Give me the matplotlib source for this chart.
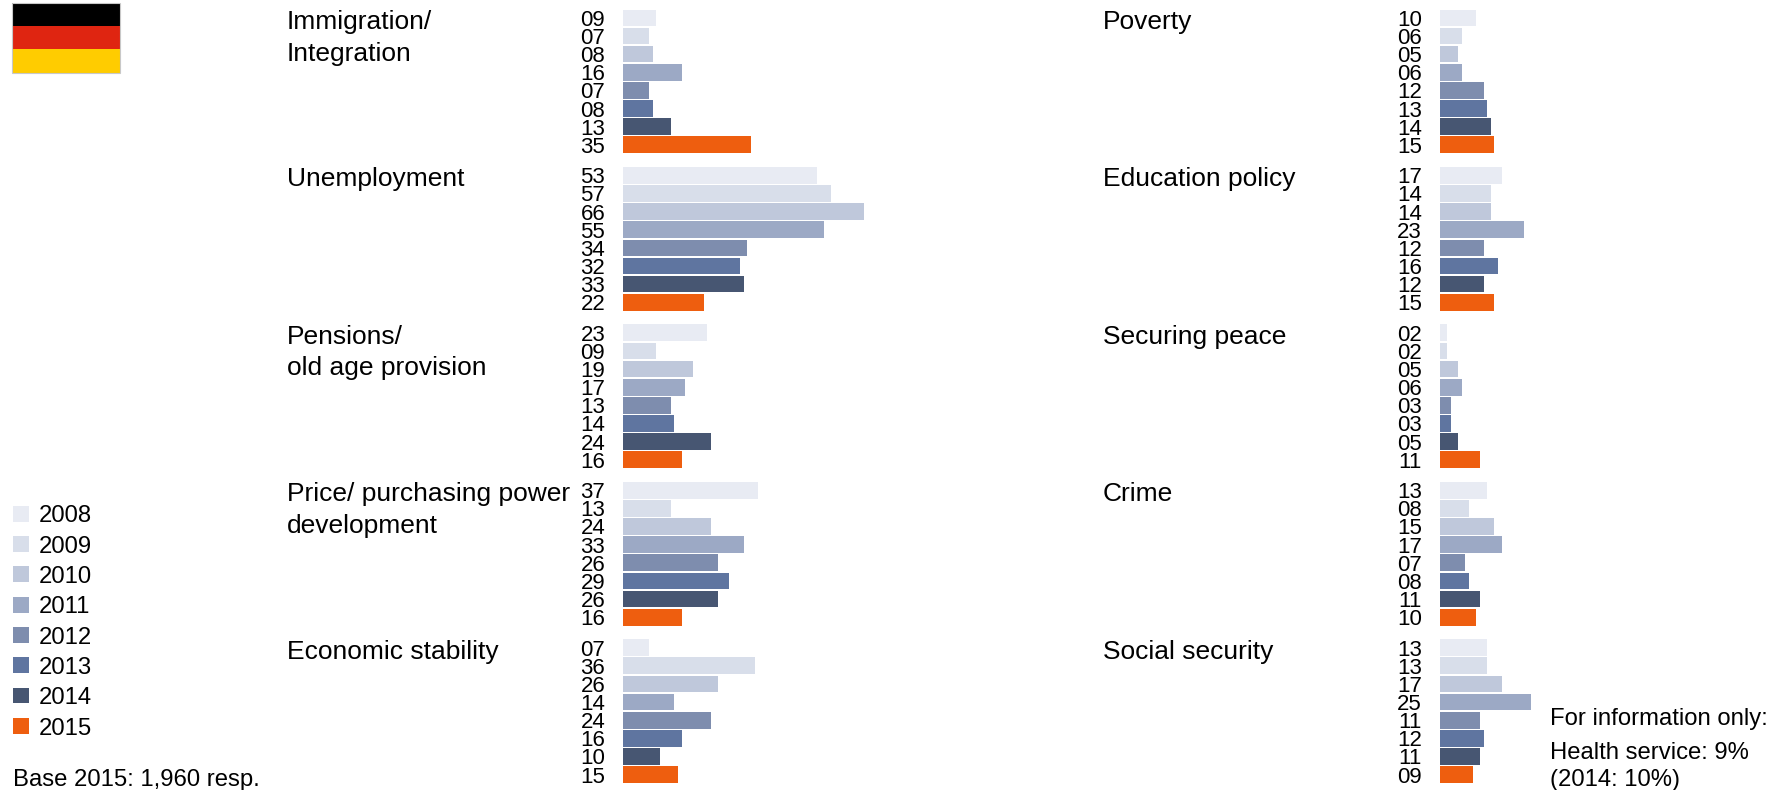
import matplotlib
matplotlib.use('Agg')
import matplotlib.pyplot as plt
from matplotlib.patches import Rectangle

plt.rcParams['font.family'] = ['Liberation Sans', 'DejaVu Sans']

years = ['2008', '2009', '2010', '2011', '2012', '2013', '2014', '2015']
colors = ['#E8EBF3', '#D8DEEA', '#BFC8DB', '#9CA9C5', '#7E8DAE', '#5F75A0', '#475672', '#EE5E0F']

left_titles = ['Immigration/\nIntegration', 'Unemployment', 'Pensions/\nold age provision',
               'Price/ purchasing power\ndevelopment', 'Economic stability']
right_titles = ['Poverty', 'Education policy', 'Securing peace', 'Crime', 'Social security']

immigration = [9, 7, 8, 16, 7, 8, 13, 35]
unemployment = [53, 57, 66, 55, 34, 32, 33, 22]
pensions = [23, 9, 19, 17, 13, 14, 24, 16]
prices = [37, 13, 24, 33, 26, 29, 26, 16]
economy = [7, 36, 26, 14, 24, 16, 10, 15]
poverty = [10, 6, 5, 6, 12, 13, 14, 15]
education = [17, 14, 14, 23, 12, 16, 12, 15]
peace = [2, 2, 5, 6, 3, 3, 5, 11]
crime = [13, 8, 15, 17, 7, 8, 11, 10]
social = [13, 13, 17, 25, 11, 12, 11, 9]

left_values = [immigration, unemployment, pensions, prices, economy]
right_values = [poverty, education, peace, crime, social]

W, H = 1778, 790
fig = plt.figure(figsize=(W / 100, H / 100), dpi=100)

# full size axes in pixels for flag, legend and free text
page = fig.add_axes([0, 0, 1, 1])
page.set_xlim(0, W)
page.set_ylim(H, 0)
page.axis('off')

page.add_patch(Rectangle((12, 2.5), 108, 23.3, fc='black', ec='none'))
page.add_patch(Rectangle((12, 25.8), 108, 23.6, fc='#DF2511', ec='none'))
page.add_patch(Rectangle((12, 49.4), 108, 23.3, fc='#FFCC00', ec='none'))
page.add_patch(Rectangle((12, 2.5), 108, 70.2, fc='none', ec='#C8C8C8', lw=0.8))

for i, (year, c) in enumerate(zip(years, colors)):
    yc = 513.8 + i * 30.29
    page.add_patch(Rectangle((13.3, yc - 7.9), 15.8, 15.8, fc=c, ec='none'))
    page.text(39, yc + 8.7, year, fontsize=17.2, va='baseline', ha='left')

page.text(13, 786, 'Base 2015: 1,960 resp.', fontsize=17.2, va='baseline', ha='left')
page.text(1550.5, 724.7, 'For information only:', fontsize=17.2, va='baseline', ha='left')
page.text(1550.5, 759.3, 'Health service: 9%', fontsize=17.2, va='baseline', ha='left')
page.text(1550.5, 786, '(2014: 10%)', fontsize=17.2, va='baseline', ha='left')

row = 18.14
pitch = 157.45
unit = 3.65


def panel(x0, top, values, title, title_x, baseline):
    # one small axes per topic, 1 data unit = one percent point
    ax = fig.add_axes([x0 / W, 1 - (top + 8 * row) / H, 300 / W, 8 * row / H])
    ax.barh(range(8), values, height=0.92, color=colors)
    ax.set_xlim(0, 300 / unit)
    ax.set_ylim(7.5, -0.5)
    ax.set_yticks(range(8))
    ax.set_yticklabels(['%02d' % v for v in values], fontsize=16)
    ax.set_xticks([])
    ax.tick_params(axis='y', length=0, pad=13)
    ax.patch.set_alpha(0)
    for s in ax.spines.values():
        s.set_visible(False)
    for k, line in enumerate(title.split('\n')):
        page.text(title_x, baseline + k * 31.5, line, fontsize=19, va='baseline', ha='left')


for i in range(5):
    top = 17.85 - row / 2 + i * pitch
    baseline = 29 + i * pitch
    panel(623.3, top, left_values[i], left_titles[i], 287, baseline)
    panel(1439.7, top, right_values[i], right_titles[i], 1103, baseline)

fig.savefig('out.png', dpi=100, facecolor='white')
